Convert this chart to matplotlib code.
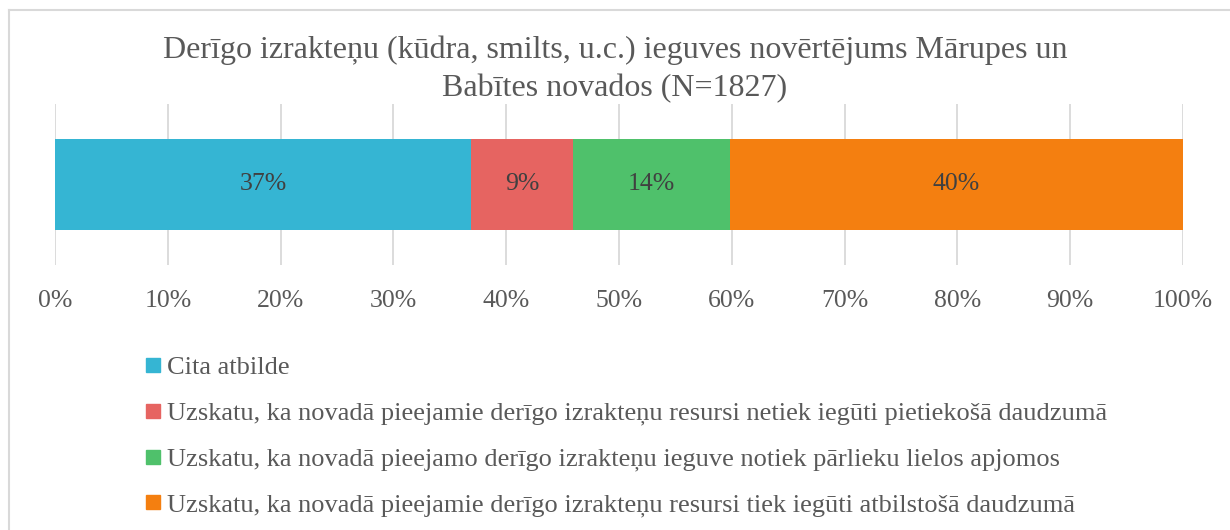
import matplotlib
matplotlib.use("Agg")
import matplotlib.pyplot as plt
from matplotlib.lines import Line2D
import numpy as np

plt.rcParams['font.family'] = ['Liberation Serif', 'DejaVu Serif']

title = "Derīgo izrakteņu (kūdra, smilts, u.c.) ieguves novērtējums Mārupes un\nBabītes novados (N=1827)"
categories = [
    "Cita atbilde",
    "Uzskatu, ka novadā pieejamie derīgo izrakteņu resursi netiek iegūti pietiekošā daudzumā",
    "Uzskatu, ka novadā pieejamo derīgo izrakteņu ieguve notiek pārlieku lielos apjomos",
    "Uzskatu, ka novadā pieejamie derīgo izrakteņu resursi tiek iegūti atbilstošā daudzumā",
]
values = [36.9, 9.0, 13.9, 40.2]
labels = ["37%", "9%", "14%", "40%"]
colors = ["#35B5D3", "#E66461", "#4FC16B", "#F47F10"]
xticks = [0, 10, 20, 30, 40, 50, 60, 70, 80, 90, 100]

fig = plt.figure(figsize=(12.3, 5.3), dpi=100)
ax = fig.add_axes([55/1230, 1-265/530, 1128/1230, 161/530])

left = 0
for v, c, lab in zip(values, colors, labels):
    ax.barh(0, v, left=left, height=0.565, color=c, zorder=3)
    ax.text(left + v/2, 0, lab, ha='center', va='center', fontsize=18.5, color='#404040', zorder=4)
    left += v

ax.set_xlim(0, 100)
ax.set_ylim(-0.5, 0.5)
ax.set_xticks(xticks)
ax.set_xticklabels([f"{t}%" for t in xticks], fontsize=18.5, color='#595959')
ax.set_yticks([])
ax.tick_params(axis='x', length=0, pad=18)
ax.grid(axis='x', color='#D9D9D9', linewidth=1.3, zorder=0)
for s in ax.spines.values():
    s.set_visible(False)

fig.text(0.5, 1-69/530, title, ha='center', va='center', fontsize=23, color='#595959', linespacing=1.4)

handles = [Line2D([], [], marker='s', linestyle='none', markersize=10, color=c) for c in colors]
leg = fig.legend(handles, categories, loc='upper left', bbox_to_anchor=(145/1230, 1-356/530),
                 frameon=False, fontsize=19, labelcolor='#595959', handlelength=0.6,
                 handletextpad=0.25, labelspacing=0.83, borderaxespad=0, borderpad=0)

# chart border (left and top visible)
fig.add_artist(Line2D([9/1230, 9/1230], [0, 1-10/530], color='#D9D9D9', linewidth=1.5))
fig.add_artist(Line2D([9/1230, 1], [1-10/530, 1-10/530], color='#D9D9D9', linewidth=1.5))

fig.savefig("out.png", dpi=100, facecolor='white')
